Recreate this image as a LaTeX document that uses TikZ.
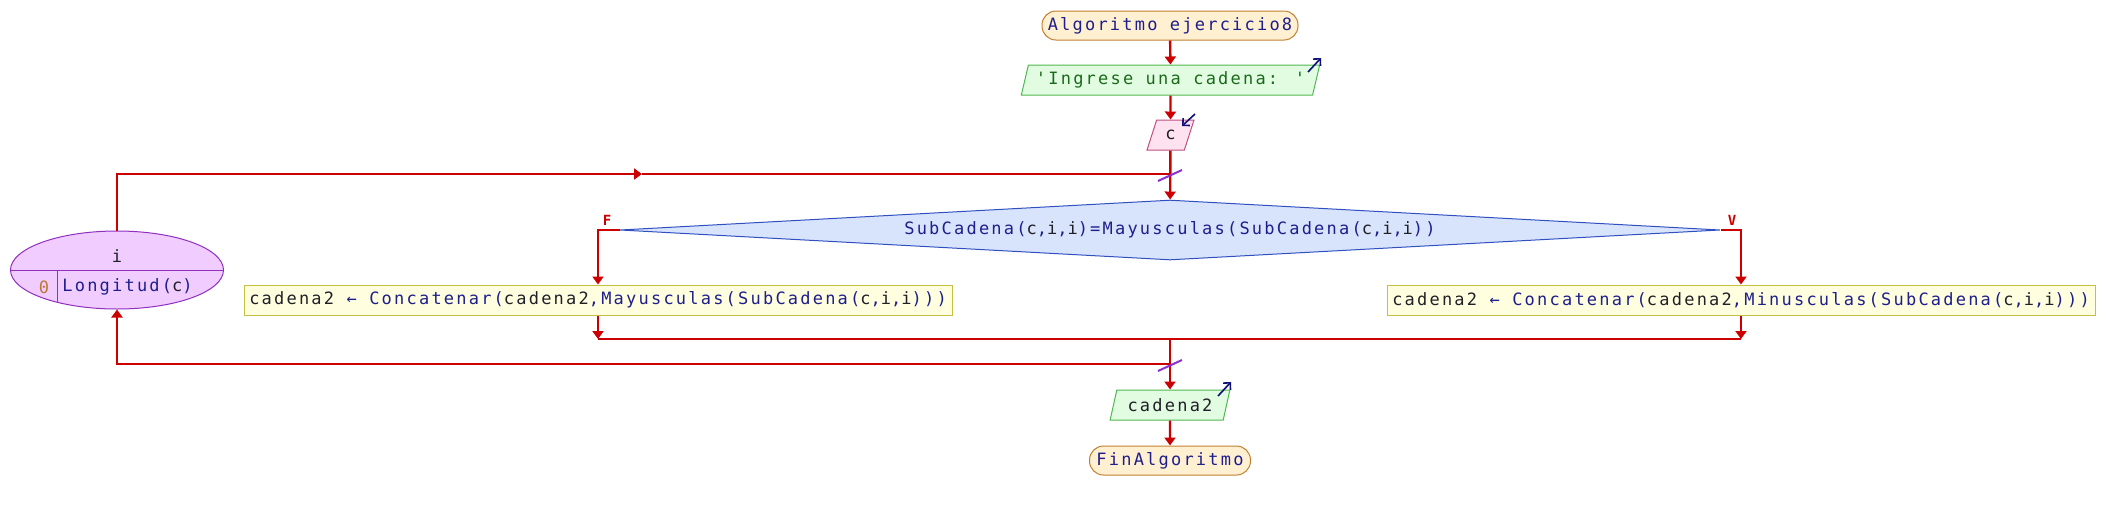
\documentclass[tikz,border=0pt]{standalone}
\usepackage{fontspec}
\usetikzlibrary{shapes.geometric,arrows.meta}
\newfontfamily\pmono[LetterSpace=13]{DejaVu Sans Mono}
\definecolor{flowc}{HTML}{CC0000}
\definecolor{navyt}{HTML}{1E1E8C}
\definecolor{vart}{HTML}{202028}
\definecolor{strt}{HTML}{1A6A1A}
\definecolor{numt}{HTML}{C07830}
\definecolor{termf}{HTML}{FFF0D2}
\definecolor{termd}{HTML}{C08030}
\definecolor{outf}{HTML}{E2FCE2}
\definecolor{outd}{HTML}{50B850}
\definecolor{inf}{HTML}{FFE2F0}
\definecolor{ind}{HTML}{C05080}
\definecolor{decf}{HTML}{D8E4FC}
\definecolor{decd}{HTML}{3050C0}
\definecolor{procf}{HTML}{FFFFE0}
\definecolor{procd}{HTML}{C8C040}
\definecolor{loopf}{HTML}{F0CCFF}
\definecolor{loopd}{HTML}{9030C0}
\definecolor{slc}{HTML}{8C30D0}
\definecolor{iconc}{HTML}{10107A}
\newcommand\pvar[1]{\textcolor{vart}{#1}}
\begin{document}
\begin{tikzpicture}[x=0.5pt,y=-0.5pt,
  base/.style={font=\pmono\fontsize{8.5}{10}\selectfont, text=navyt, inner sep=0pt, line width=0.5pt},
  term/.style={base, draw=termd, fill=termf, rounded corners=7pt, minimum height=14.5pt},
  outp/.style={base, shape=trapezium, trapezium left angle=68, trapezium right angle=112, trapezium stretches=true, draw=outd, fill=outf, minimum height=15pt},
  inp/.style={base, shape=trapezium, trapezium left angle=70, trapezium right angle=110, trapezium stretches=true, draw=ind, fill=inf, minimum height=15pt},
  dec/.style={base, diamond, aspect=18, draw=decd, fill=decf, minimum width=550pt, minimum height=30pt},
  proc/.style={base, draw=procd, fill=procf, minimum width=354pt, minimum height=15pt},
  loopn/.style={base, ellipse, draw=loopd, fill=loopf, minimum width=106.5pt, minimum height=39pt},
  txt/.style={font=\pmono\fontsize{8.5}{10}\selectfont, text=navyt, inner sep=0pt},
  lbl/.style={font=\pmono\bfseries\fontsize{7}{8}\selectfont, text=flowc, inner sep=0pt},
  flow/.style={draw=flowc, line width=1.2pt, -{Triangle[length=4pt,width=5.5pt]}},
  lin/.style={draw=flowc, line width=1.2pt},
  slashl/.style={draw=slc, line width=1pt},
  icon/.style={draw=iconc, line width=0.8pt, -{Straight Barb[length=2.5pt,width=5pt]}}
]
\useasboundingbox (0,0) rectangle (2106,510);

% nodes
\node[term, minimum width=128pt] (start) at (1170,25.5) {Algoritmo ejercicio8};
\node[outp, minimum width=149.5pt] (out1) at (1170.5,80) {\textcolor{strt}{'Ingrese una cadena: '}};
\node[inp, minimum width=23.5pt] (in1) at (1170.5,135) {\pvar{c}};
\node[dec] (cond) at (1170,230) {SubCadena(\pvar{c},\pvar{i},\pvar{i})=Mayusculas(SubCadena(\pvar{c},\pvar{i},\pvar{i}))};
\node[proc] (boxL) at (598,300) {\pvar{cadena2} ← Concatenar(\pvar{cadena2},Mayusculas(SubCadena(\pvar{c},\pvar{i},\pvar{i})))};
\node[proc] (boxR) at (1741,300) {\pvar{cadena2} ← Concatenar(\pvar{cadena2},Minusculas(SubCadena(\pvar{c},\pvar{i},\pvar{i})))};
\node[outp, minimum width=60pt] (out2) at (1170,405) {\pvar{cadena2}};
\node[term, minimum width=80.5pt] (fin) at (1170,460.5) {FinAlgoritmo};
\node[loopn] (loop) at (117,270) {};
\node[txt] (li) at (117,256) {\pvar{i}};
\node[txt, text=numt] (lz) at (44,287) {0};
\node[txt, anchor=west] (llen) at (62,287) {Longitud(\pvar{c})};
\draw[loopd, line width=0.5pt] (loop.west) -- (loop.east);
\draw[loopd, line width=0.5pt] (57,270) -- (57,302);

% labels
\node[lbl] (lf) at (607,220) {F};
\node[lbl] (lv) at (1732,220) {V};

% coordinates
\coordinate (mL) at (598,339);
\coordinate (mR) at (1741,339);
\coordinate (mC) at (1170,339);
\coordinate (lt) at (1170,174);
\coordinate (ltm) at (642,174);
\coordinate (lb) at (1170,364);

% connectors
\draw[flow] (start) -- (out1);
\draw[flow] (out1) -- (in1);
\draw[flow] (in1) -- (cond);
\draw[flow] (cond.west) -| (boxL);
\draw[flow] (cond.east) -| (boxR);
\draw[flow] (boxL) -- (mL);
\draw[flow] (boxR) -- (mR);
\draw[lin] (mL) -- (mR);
\draw[flow] (mC) -- (out2);
\draw[flow] (out2) -- (fin);
\draw[flow] (loop.north) |- (ltm);
\draw[lin] (ltm) -- (lt);
\draw[flow] (lb) -| (loop.south);

% crossing marks
\draw[slashl] (1158,181) -- (1182,170);
\draw[slashl] (1158,371) -- (1182,360);

% io icons
\draw[icon] (1308,72) -- (1321,58);
\draw[icon] (1195,114) -- (1182,126);
\draw[icon] (1218,396) -- (1231,382);
\end{tikzpicture}
\end{document}
